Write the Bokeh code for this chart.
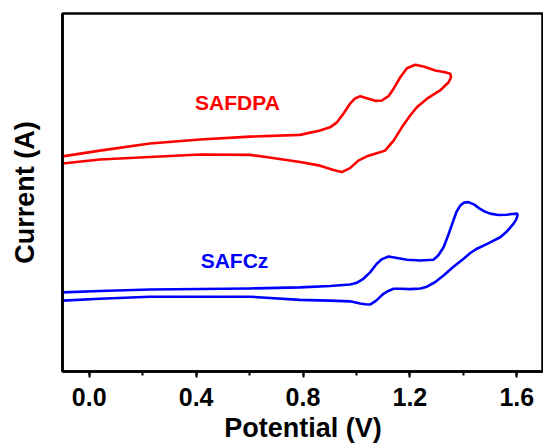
from bokeh.plotting import figure
from bokeh.models import Label, Range1d, SingleIntervalTicker, FixedTicker, PrintfTickFormatter
from bokeh.embed import file_html
from bokeh.resources import INLINE

# Cyclic voltammograms (potential in V, current in arbitrary units, curves offset)
safdpa_fwd_v = [-0.100, 0.040, 0.227, 0.415, 0.602, 0.789, 0.864, 0.901, 0.927, 0.951,
                0.976, 0.995, 1.014, 1.039, 1.070, 1.095, 1.120, 1.139, 1.164, 1.189,
                1.220, 1.251, 1.295, 1.332, 1.351]
safdpa_fwd_i = [60.1, 61.7, 63.7, 64.8, 65.6, 66.1, 67.3, 68.2, 69.6, 72.0,
                74.8, 76.3, 76.9, 76.3, 75.6, 75.7, 76.9, 79.0, 82.2, 84.7,
                85.7, 85.2, 84.1, 83.6, 83.2]
safdpa_rev_v = [1.354, 1.345, 1.313, 1.264, 1.226, 1.201, 1.170, 1.139, 1.107, 1.070,
                1.039, 1.007, 0.976, 0.945, 0.914, 0.864, 0.789, 0.725, 0.662, 0.602,
                0.415, 0.227, 0.040, -0.100]
safdpa_rev_i = [82.2, 80.8, 78.5, 76.2, 73.8, 71.5, 68.2, 64.5, 61.7, 60.8,
                60.1, 58.9, 56.8, 55.7, 56.3, 57.5, 58.5, 59.2, 59.9, 60.5,
                60.6, 59.9, 59.2, 58.1]

safcz_fwd_v = [-0.100, 0.040, 0.227, 0.602, 0.789, 0.901, 0.976, 0.999, 1.026, 1.051,
               1.076, 1.096, 1.120, 1.152, 1.189, 1.239, 1.288, 1.306, 1.326, 1.343,
               1.363, 1.375, 1.389, 1.403, 1.419, 1.441, 1.463, 1.482, 1.501, 1.531,
               1.563, 1.583, 1.601]
safcz_fwd_i = [22.1, 22.5, 22.9, 23.2, 23.5, 23.9, 24.3, 24.7, 25.9, 27.7,
               30.1, 31.4, 32.1, 31.7, 31.2, 31.0, 31.2, 32.4, 34.7, 38.0,
               42.2, 44.7, 46.4, 47.2, 47.3, 46.6, 45.4, 44.6, 44.1, 43.7,
               43.8, 44.0, 44.1]
safcz_rev_v = [1.603, 1.598, 1.588, 1.564, 1.538, 1.493, 1.451, 1.426, 1.401, 1.362,
               1.326, 1.295, 1.264, 1.239, 1.201, 1.164, 1.139, 1.119, 1.101, 1.074,
               1.051, 1.033, 1.014, 0.976, 0.901, 0.789, 0.602, 0.227, 0.040, -0.100]
safcz_rev_i = [43.6, 42.5, 41.3, 39.2, 37.5, 35.8, 34.3, 33.1, 31.5, 29.2,
               26.8, 25.0, 23.7, 23.2, 23.0, 23.1, 23.1, 22.5, 21.7, 19.8,
               18.7, 18.8, 19.0, 19.6, 19.8, 20.0, 20.9, 20.9, 20.3, 19.8]

RED = "#ff0000"
BLUE = "#0000ff"
FONT = "Liberation Sans"

p = figure(width=543, height=445, output_backend="svg", toolbar_location=None,
           x_range=Range1d(-0.1, 1.7), y_range=Range1d(0, 100),
           min_border_left=62, min_border_right=0, min_border_top=13, min_border_bottom=74)

p.line(safdpa_fwd_v + safdpa_rev_v, safdpa_fwd_i + safdpa_rev_i,
       line_color=RED, line_width=2.6, line_join="round")
p.line(safcz_fwd_v + safcz_rev_v, safcz_fwd_i + safcz_rev_i,
       line_color=BLUE, line_width=2.6, line_join="round")

p.add_layout(Label(x=0.396, y=75.2, text="SAFDPA", text_color=RED, text_font=FONT,
                   text_font_style="bold", text_font_size="21px",
                   text_baseline="middle", text_align="left"))
p.add_layout(Label(x=0.417, y=31.0, text="SAFCz", text_color=BLUE, text_font=FONT,
                   text_font_style="bold", text_font_size="21px",
                   text_baseline="middle", text_align="left"))

p.grid.visible = False
p.outline_line_color = "black"
p.outline_line_width = 2.5

xa = p.xaxis[0]
xa.ticker = SingleIntervalTicker(interval=0.4, num_minor_ticks=2)
xa.formatter = PrintfTickFormatter(format="%.1f")
xa.axis_label = "Potential (V)"
xa.axis_line_width = 2.5
xa.major_tick_line_width = 2
xa.minor_tick_line_width = 2
xa.major_tick_out = 6
xa.major_tick_in = 0
xa.minor_tick_out = 4
xa.minor_tick_in = 0
xa.major_label_standoff = 10
xa.major_label_text_font = FONT
xa.major_label_text_font_style = "bold"
xa.major_label_text_font_size = "25px"
xa.major_label_text_color = "black"
xa.axis_label_standoff = 4
xa.axis_label_text_font = FONT
xa.axis_label_text_font_style = "bold"
xa.axis_label_text_font_size = "27px"
xa.axis_label_text_color = "black"

ya = p.yaxis[0]
ya.ticker = FixedTicker(ticks=[])
ya.major_label_text_font_size = "0px"
ya.axis_label = "Current (A)"
ya.axis_line_width = 2.5
ya.major_tick_out = 0
ya.minor_tick_out = 0
ya.axis_label_standoff = 23
ya.axis_label_text_font = FONT
ya.axis_label_text_font_style = "bold"
ya.axis_label_text_font_size = "27px"
ya.axis_label_text_color = "black"

open("out.html", "w").write(file_html(p, INLINE))
